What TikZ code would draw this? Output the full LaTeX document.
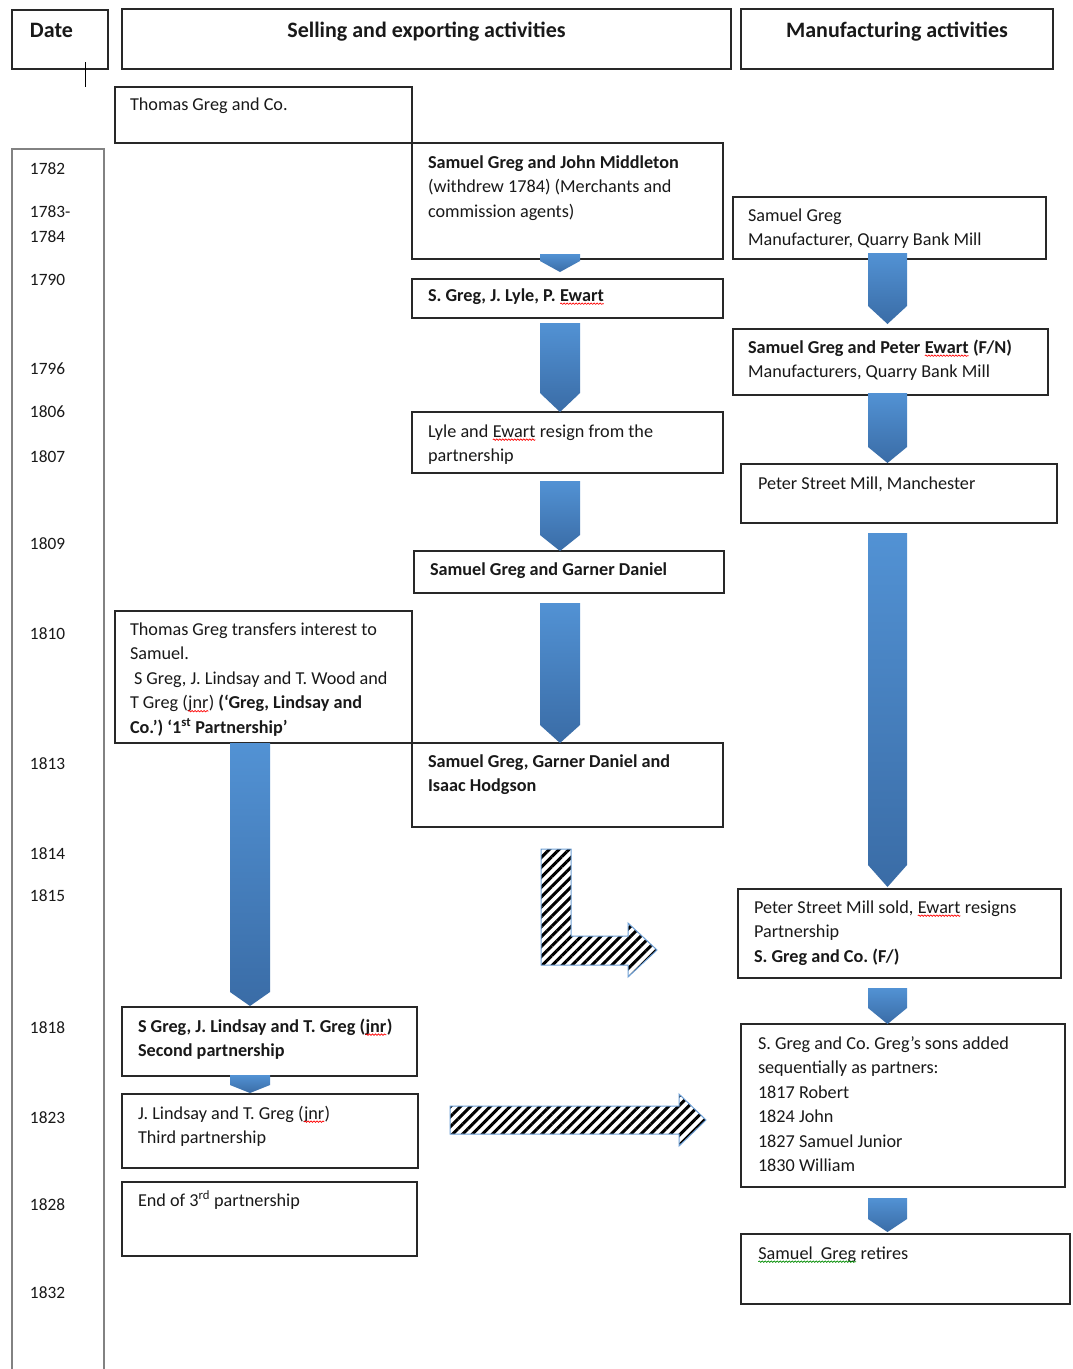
\documentclass[tikz,border=0pt]{standalone}
\usepackage{fontspec}
\setmainfont{Carlito}
\usetikzlibrary{patterns.meta,decorations.pathmorphing,calc}
\frenchspacing
\definecolor{bA}{RGB}{82,146,212}
\definecolor{bB}{RGB}{58,108,166}
\definecolor{edge}{RGB}{40,40,40}
\definecolor{hatchedge}{RGB}{110,160,215}
\definecolor{datecol}{RGB}{130,130,130}
\newcommand\fs{\fontsize{18.2}{24.5}\selectfont\frenchspacing}
\newcommand\dfs{\fontsize{17.3}{24.5}\selectfont}
\newcommand\hfs{\fontsize{22}{22}\selectfont\bfseries}
\tikzset{
 box/.style={draw=edge,line width=1.4pt,inner sep=0pt,outer sep=0pt,anchor=north west},
 txt/.style={anchor=north west,inner sep=0pt,outer sep=0pt,align=left,font=\fs,text=black!90},
 dtxt/.style={txt,font=\dfs},
 hdr/.style={anchor=north,inner sep=0pt,outer sep=0pt,align=center,font=\hfs,text=black!90},
 hatch/.style={draw=hatchedge,line width=1pt,pattern={Lines[angle=45,distance=7pt,line width=3pt]},pattern color=black},
 squig/.style={line width=0.7pt,decorate,decoration={snake,amplitude=0.7pt,segment length=3pt}},
}
\newcommand\sq[2][red]{\tikz[baseline=(w.base)]{\node[inner sep=0pt,outer sep=0pt,anchor=base](w){#2};\draw[#1,squig]([yshift=-2.5pt]w.base west)--([yshift=-2.5pt]w.base east);}}
% name, x1, y1, x2, y2, text x, text y (first line centre), text
\newcommand\bx[8]{%
 \node[box,minimum width={(#4-#2)*1pt},minimum height={(#5-#3)*1pt}] (#1) at (#2,#3) {};
 \node[txt] (#1-t) at (#6,#7-12) {\strut #8};}
% from, to, x left, x right, head length, top offset, tip offset
\newcommand\barrow[7]{%
 \shade[top color=bA,bottom color=bB] let \p1=(#1.south),\p2=(#2.north) in
 ({#3pt},{\y1-1pt*#6}) -- ({#4pt},{\y1-1pt*#6}) -- ({#4pt},{\y2-1pt*#7+1pt*#5}) -- ({(#3+#4)/2*1pt},{\y2-1pt*#7}) -- ({#3pt},{\y2-1pt*#7+1pt*#5}) -- cycle;}
\begin{document}
\begin{tikzpicture}[x=1pt,y=-1pt]
\useasboundingbox[fill=white] (0,0) rectangle (1072,1369);
% headers
\node[box,minimum width=96pt,minimum height=59pt] (hdate) at (12,10) {};
\node[hdr,anchor=north west] (hdate-t) at (30,22) {\strut Date};
\node[box,minimum width=609pt,minimum height=60pt] (hsell) at (122,9) {};
\node[hdr] (hsell-t) at (426.5,22) {\strut Selling and exporting activities};
\node[box,minimum width=312pt,minimum height=60pt] (hman) at (741,9) {};
\node[hdr] (hman-t) at (897,22) {\strut Manufacturing activities};
\coordinate (tickA) at (85,62);
\coordinate (tickB) at (85,87);
\draw[line width=1pt,black] (tickA) -- (tickB);
% date column
\draw[datecol,line width=2.5pt] (12,1372) -- (12,149) -- (104,149) -- (104,1372);
\foreach \yr/\yy in {1782/169,1783-/212,1784/237,1790/280,1796/369,1806/412,1807/457,1809/544,1810/634,1813/764,1814/854,1815/896,1818/1028,1823/1118,1828/1205,1832/1293}
  \node[dtxt] (d\yr) at (30,\yy-12) {\strut\yr};
% boxes
\bx{tgco}{115}{87}{412}{143}{130}{105}{Thomas Greg and Co.}
\bx{midd}{412}{143}{723}{259}{428}{163}{\textbf{Samuel Greg and John Middleton}\\(withdrew 1784) (Merchants and\\commission agents)}
\bx{quarry}{733}{197}{1046}{259}{748}{216}{Samuel Greg\\Manufacturer, Quarry Bank Mill}
\bx{lyle}{412}{279}{723}{318}{428}{296}{\textbf{S. Greg, J. Lyle, P. \sq{Ewart}}}
\bx{ewart}{733}{329}{1048}{395}{748}{348}{\textbf{Samuel Greg and Peter \sq{Ewart} (F/N)}\\Manufacturers, Quarry Bank Mill}
\bx{resign}{412}{412}{723}{473}{428}{432}{Lyle and \sq{Ewart} resign from the\\partnership}
\bx{peterst}{741}{464}{1057}{523}{758}{484}{Peter Street Mill, Manchester}
\bx{garner}{414}{551}{724}{593}{430}{570}{\textbf{Samuel Greg and Garner Daniel}}
\bx{transfer}{115}{611}{412}{743}{130}{630}{Thomas Greg transfers interest to\\Samuel.\\\hspace{4pt}S Greg, J. Lindsay and T. Wood and\\T Greg (\sq{jnr}) \textbf{(‘Greg, Lindsay and}\\\textbf{Co.’) ‘1\textsuperscript{st} Partnership’}}
\bx{hodg}{412}{743}{723}{827}{428}{762}{\textbf{Samuel Greg, Garner Daniel and}\\\textbf{Isaac Hodgson}}
\bx{sold}{738}{889}{1061}{978}{754}{908}{Peter Street Mill sold, \sq{Ewart} resigns\\Partnership\\\textbf{S. Greg and Co. (F/)}}
\bx{second}{122}{1007}{417}{1076}{138}{1027}{\textbf{S Greg, J. Lindsay and T. Greg (\sq{jnr})}\\\textbf{Second partnership}}
\bx{sons}{741}{1024}{1065}{1187}{758}{1044}{S. Greg and Co. Greg’s sons added\\sequentially as partners:\\1817 Robert\\1824 John\\1827 Samuel Junior\\1830 William}
\bx{third}{122}{1094}{418}{1168}{138}{1114}{J. Lindsay and T. Greg (\sq{jnr})\\Third partnership}
\bx{endp}{122}{1182}{417}{1256}{138}{1201}{End of 3\textsuperscript{rd} partnership}
\bx{retire}{741}{1234}{1070}{1304}{758}{1254}{\sq[green!55!black]{Samuel\ \ Greg} retires}
% blue block arrows
\barrow{midd}{lyle}{540}{580}{11}{-5}{-7}
\barrow{lyle}{resign}{540}{580}{19}{5}{0}
\barrow{quarry}{ewart}{868}{907}{18}{-6}{-5}
\barrow{ewart}{peterst}{868}{907}{16}{-2}{-1}
\barrow{resign}{garner}{540}{580}{16}{8}{0}
\barrow{peterst}{sold}{868}{907}{22}{10}{-2}
\barrow{garner}{hodg}{540}{580}{18}{10}{0}
\barrow{transfer}{second}{230}{270}{14}{0}{-1}
\barrow{sold}{sons}{868}{907}{16}{10}{0}
\barrow{second}{third}{230}{270}{8}{-1}{-1}
\barrow{sons}{retire}{868}{907}{13}{11}{-2}
% hatched arrows
\draw[hatch] (541,849) -- (571,849) -- (571,936) -- (628,936) -- (628,923) -- (657,950) -- (628,977) -- (628,965) -- (541,965) -- cycle;
\draw[hatch] (450,1106) -- (679,1106) -- (679,1094) -- (706,1120) -- (679,1146) -- (679,1134) -- (450,1134) -- cycle;
\end{tikzpicture}
\end{document}
